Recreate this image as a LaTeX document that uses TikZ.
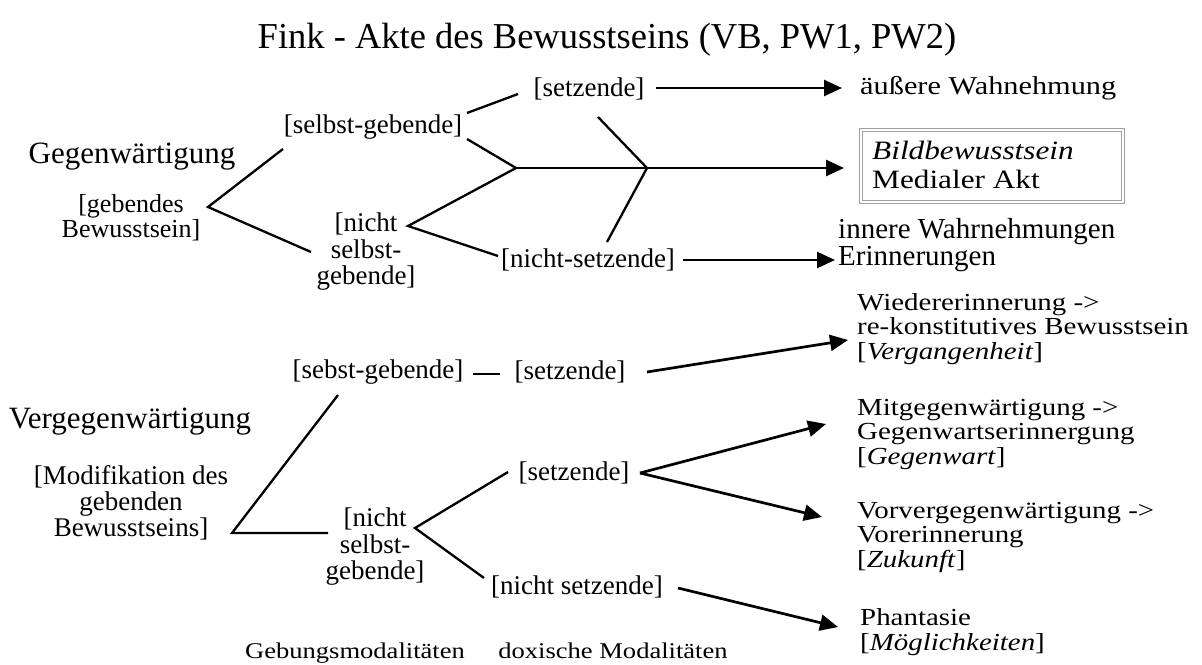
\documentclass[tikz,border=0pt]{standalone}
\usepackage{fontspec}
\setmainfont{Liberation Serif}
\newfontfamily\baskf{Liberation Serif}[FakeStretch=1.18]
\usetikzlibrary{arrows.meta}
\tikzset{
  ln/.style={line width=2.3pt},
  arr/.style={line width=2.7pt,-{Triangle[length=18pt,width=16pt]}},
  ttl/.style={inner sep=0pt,font=\fontsize{36.5}{40}\selectfont},
  big/.style={inner sep=0pt,font=\fontsize{31}{30}\selectfont},
  brk/.style={inner sep=0pt,align=center,font=\fontsize{27}{26.5}\selectfont},
  bask/.style={inner sep=0pt,align=left,font=\baskf\fontsize{24.5}{24.5}\selectfont},
  basks/.style={inner sep=0pt,anchor=base,font=\baskf\fontsize{22.5}{24}\selectfont},
  frame/.style={draw=gray!75,double=white,double distance=2.5pt,line width=0.7pt,inner sep=0pt},
}
\begin{document}
\begin{tikzpicture}[x=1pt,y=-1pt]
\useasboundingbox (0,0) rectangle (1202,664);
\fill[white] (0,0) rectangle (1202,664);

\node[ttl] (title) at (607,40) {Fink - Akte des Bewusstseins (VB, PW1, PW2)};

% ---------- upper part ----------
\node[big] (gegen) at (132,157) {Gegenwärtigung};
\node[brk,font=\fontsize{26}{22.5}\selectfont] (geb) at (131,218) {[gebendes\\Bewusstsein]};
\node[brk] (sg1) at (373,127) {[selbst-gebende]};
\node[brk] (nsg1) at (366,252) {[nicht\\selbst-\\gebende]};
\node[brk] (s1) at (589,89) {[setzende]};
\node[brk] (nsz1) at (588,260) {[nicht-setzende]};
\node[bask,anchor=west,font=\baskf\fontsize{25.7}{26}\selectfont] (aus) at (860,88) {äußere Wahnehmung};
\node[frame,minimum width=262pt,minimum height=72pt] (box) at (992,166) {};
\node[bask,anchor=west,font=\baskf\fontsize{26.5}{29}\selectfont] (boxt) at (872,165) {\textit{Bildbewusstsein}\\Medialer Akt};
\node[inner sep=0pt,align=left,anchor=west,font=\fontsize{29}{24}\selectfont] (inn) at (838,245) {innere Wahrnehmungen\\Erinnerungen};

\coordinate (v1) at (208,207);
\coordinate (v1a) at (283,149);
\coordinate (v1b) at (311,252);
\coordinate (sga) at (467,113);
\coordinate (sgb) at (518,94);
\coordinate (sgc) at (467,139);
\coordinate (A) at (516,168);
\coordinate (B) at (647,168);
\coordinate (Bt) at (598,117);
\coordinate (Bb) at (607,242);
\coordinate (nv1) at (408,226);
\coordinate (nv1b) at (498,256);
\coordinate (s1e) at (656,88);
\coordinate (s1t) at (842,88);
\coordinate (At) at (844,168);
\coordinate (nsz1e) at (683,260);
\coordinate (nsz1t) at (835,260);

\draw[ln] (v1a) -- (v1) -- (v1b);
\draw[ln] (sga) -- (sgb);
\draw[ln] (sgc) -- (A);
\draw[ln] (A) -- (nv1) -- (nv1b);
\draw[ln] (Bt) -- (B) -- (Bb);
\draw[arr] (A) -- (At);
\draw[arr] (s1e) -- (s1t);
\draw[arr] (nsz1e) -- (nsz1t);

% ---------- lower part ----------
\node[big] (verg) at (130,422) {Vergegenwärtigung};
\node[brk,font=\fontsize{27}{26}\selectfont] (mod) at (131,503) {[Modifikation des\\gebenden\\Bewusstseins]};
\node[brk] (sg2) at (378,372) {[sebst-gebende]};
\node[brk] (s2) at (570,372) {[setzende]};
\node[brk] (nsg2) at (375,547) {[nicht\\selbst-\\gebende]};
\node[brk] (s3) at (574,473) {[setzende]};
\node[brk] (nsz2) at (577,587) {[nicht setzende]};

\node[bask,anchor=west] (wied) at (857,329) {Wiedererinnerung ->\\re-konstitutives Bewusstsein\\{[}\textit{Vergangenheit}{]}};
\node[bask,anchor=west] (mitg) at (857,434) {Mitgegenwärtigung ->\\Gegenwartserinnergung\\{[}\textit{Gegenwart}{]}};
\node[bask,anchor=west] (vorv) at (857,537) {Vorvergegenwärtigung ->\\Vorerinnerung\\{[}\textit{Zukunft}{]}};
\node[bask,anchor=west] (phan) at (860,632) {Phantasie\\{[}\textit{Möglichkeiten}{]}};

\node[basks] (gm) at (355,658) {Gebungsmodalitäten};
\node[basks] (dm) at (613,658) {doxische Modalitäten};

\coordinate (v2) at (232,533);
\coordinate (v2a) at (338,395);
\coordinate (v2b) at (328,533);
\coordinate (d1) at (473,374);
\coordinate (d2) at (500,374);
\coordinate (s2e) at (647,372);
\coordinate (nv2) at (415,528);
\coordinate (nv2a) at (508,472);
\coordinate (nv2b) at (484,578);
\coordinate (s3e) at (640,473);
\coordinate (nsz2e) at (678,588);
\coordinate (wt) at (848,340);
\coordinate (mt) at (826,424);
\coordinate (vt) at (822,517);
\coordinate (pt) at (838,627);

\draw[ln] (v2a) -- (v2) -- (v2b);
\draw[ln] (d1) -- (d2);
\draw[ln] (nv2a) -- (nv2) -- (nv2b);
\draw[arr] (s2e) -- (wt);
\draw[arr] (s3e) -- (mt);
\draw[arr] (s3e) -- (vt);
\draw[arr] (nsz2e) -- (pt);
\end{tikzpicture}
\end{document}
